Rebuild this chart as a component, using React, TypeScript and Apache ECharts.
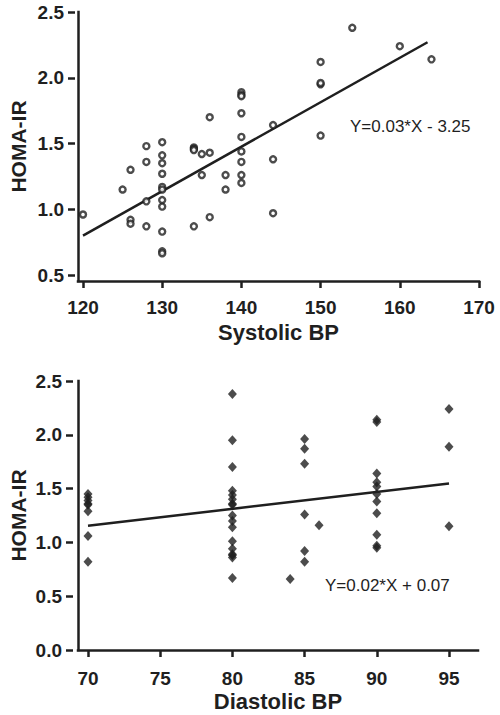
import React, { useEffect, useRef } from "react";
import * as echarts from "echarts";

// Top panel: Systolic BP vs HOMA-IR (open circles)
const sysX = [120, 125, 126, 126, 126, 128, 128, 128, 128, 130, 130, 130, 130, 130, 130, 130, 130, 130, 130, 130, 134, 134, 134, 134, 135, 135, 136, 136, 136, 138, 138, 140, 140, 140, 140, 140, 140, 140, 140, 140, 144, 144, 144, 150, 150, 150, 150, 154, 160, 164];
const sysY = [0.96, 1.15, 1.30, 0.92, 0.89, 1.48, 1.36, 1.06, 0.87, 1.51, 1.41, 1.35, 1.27, 1.17, 1.15, 1.07, 1.02, 0.83, 0.68, 0.665, 1.47, 1.46, 1.45, 0.87, 1.42, 1.26, 1.43, 0.94, 1.70, 1.26, 1.15, 1.89, 1.87, 1.86, 1.73, 1.55, 1.44, 1.36, 1.26, 1.20, 1.64, 1.38, 0.97, 2.12, 1.95, 1.96, 1.56, 2.38, 2.24, 2.14];
const sysFitX = [120, 163.5];
const sysFitY = [0.80, 2.27];
const sysTicksX = [120, 130, 140, 150, 160, 170];
const sysEquation = "Y=0.03*X - 3.25";

// Bottom panel: Diastolic BP vs HOMA-IR (filled diamonds)
const diaX = [70, 70, 70, 70, 70, 70, 70, 70, 80, 80, 80, 80, 80, 80, 80, 80, 80, 80, 80, 80, 80, 80, 80, 80, 80, 84, 85, 85, 85, 85, 85, 85, 86, 90, 90, 90, 90, 90, 90, 90, 90, 90, 90, 90, 95, 95, 95];
const diaY = [1.45, 1.42, 1.39, 1.35, 1.36, 1.29, 1.06, 0.82, 2.38, 1.95, 1.70, 1.48, 1.44, 1.40, 1.35, 1.36, 1.25, 1.20, 1.14, 1.01, 0.94, 0.89, 0.86, 0.67, 0.88, 0.66, 1.96, 1.87, 1.73, 1.26, 0.92, 0.82, 1.16, 2.14, 2.12, 1.64, 1.56, 1.52, 1.45, 1.38, 1.27, 1.07, 0.97, 0.95, 2.24, 1.89, 1.15];
const diaFitX = [70, 95];
const diaFitY = [1.155, 1.547];
const diaTicksX = [70, 75, 80, 85, 90, 95];
const diaEquation = "Y=0.02*X + 0.07";

const yLabel = "HOMA-IR";
const sysTitle = "Systolic BP";
const diaTitle = "Diastolic BP";

const INK = "#1f1f1f";
const FONT = "Liberation Sans, Arial, sans-serif";

function pairs(xs: number[], ys: number[]) {
  return xs.map((x, i) => [x, ys[i]]);
}

export default function App() {
  const ref = useRef<HTMLDivElement>(null);
  useEffect(() => {
    if (!ref.current) return;
    const chart = echarts.init(ref.current, null, { renderer: "svg" });

    const frameX = (gridIndex: number, name: string) => ({
      type: "value",
      gridIndex,
      min: 0,
      max: 1,
      axisLine: { show: true, lineStyle: { color: INK, width: 2.5, cap: "square" } },
      axisTick: { show: false },
      axisLabel: { show: false },
      splitLine: { show: false },
      name,
      nameLocation: "middle",
      nameGap: 40,
      nameTextStyle: { fontFamily: FONT, fontWeight: "bold", fontSize: 22, color: INK },
    });
    const frameY = (gridIndex: number) => ({
      type: "value",
      gridIndex,
      min: 0,
      max: 1,
      axisLine: { show: true, lineStyle: { color: INK, width: 2.5, cap: "square" } },
      axisTick: { show: false },
      axisLabel: { show: false },
      splitLine: { show: false },
      name: yLabel,
      nameLocation: "middle",
      nameGap: 49,
      nameTextStyle: { fontFamily: FONT, fontWeight: "bold", fontSize: 21, color: INK },
    });
    const tickStyle = { show: true, length: 7, lineStyle: { color: INK, width: 2.5 } };
    const labelStyle = { fontFamily: FONT, fontWeight: "bold", fontSize: 19, color: INK };

    chart.setOption({
      animation: false,
      backgroundColor: "#ffffff",
      grid: [
        { left: 83, top: 12, right: 21, bottom: 440 },
        { left: 75, top: 12, right: 21, bottom: 434 },
        { left: 88, top: 381, right: 51, bottom: 65 },
        { left: 73, top: 381, right: 22, bottom: 65 },
      ],
      xAxis: [
        {
          type: "value", gridIndex: 0, min: sysTicksX[0], max: sysTicksX[sysTicksX.length - 1], interval: 10,
          offset: 6, axisLine: { show: false }, axisTick: tickStyle,
          axisLabel: { ...labelStyle, margin: 17 }, splitLine: { show: false },
        },
        frameX(1, sysTitle),
        {
          type: "value", gridIndex: 2, min: diaTicksX[0], max: diaTicksX[diaTicksX.length - 1], interval: 5,
          offset: 0, axisLine: { show: false }, axisTick: tickStyle,
          axisLabel: { ...labelStyle, margin: 19 }, splitLine: { show: false },
        },
        frameX(3, diaTitle),
      ],
      yAxis: [
        {
          type: "value", gridIndex: 0, min: 0.5, max: 2.5, interval: 0.5,
          offset: 8, axisLine: { show: false }, axisTick: tickStyle,
          axisLabel: { ...labelStyle, margin: 11, formatter: (v: number) => v.toFixed(1) },
          splitLine: { show: false },
        },
        frameY(1),
        {
          type: "value", gridIndex: 2, min: 0, max: 2.5, interval: 0.5,
          offset: 15, axisLine: { show: false }, axisTick: tickStyle,
          axisLabel: { ...labelStyle, margin: 11, formatter: (v: number) => v.toFixed(1) },
          splitLine: { show: false },
        },
        frameY(3),
      ],
      series: [
        {
          type: "scatter", xAxisIndex: 0, yAxisIndex: 0,
          data: pairs(sysX, sysY),
          symbol: "circle", symbolSize: 6,
          itemStyle: { color: "#ffffff", borderColor: INK, borderWidth: 2.4 },
          z: 3,
        },
        {
          type: "line", xAxisIndex: 0, yAxisIndex: 0,
          data: pairs(sysFitX, sysFitY),
          showSymbol: false, symbol: "none",
          lineStyle: { color: INK, width: 2.5 },
          z: 2,
        },
        {
          type: "scatter", xAxisIndex: 2, yAxisIndex: 2,
          data: pairs(diaX, diaY),
          symbol: "diamond", symbolSize: [9, 10],
          itemStyle: { color: INK },
          z: 3,
        },
        {
          type: "line", xAxisIndex: 2, yAxisIndex: 2,
          data: pairs(diaFitX, diaFitY),
          showSymbol: false, symbol: "none",
          lineStyle: { color: INK, width: 2.5 },
          z: 2,
        },
      ],
      graphic: [
        {
          type: "text", x: 350, y: 126,
          style: { text: sysEquation, fontFamily: FONT, fontSize: 17, fill: INK, verticalAlign: "middle" },
        },
        {
          type: "text", x: 325, y: 585,
          style: { text: diaEquation, fontFamily: FONT, fontSize: 17, fill: INK, verticalAlign: "middle" },
        },
      ],
    });
    return () => chart.dispose();
  }, []);

  return (
    <div
      ref={ref}
      style={{ position: "fixed", left: 0, top: 0, width: 500, height: 715, background: "#fff" }}
    />
  );
}
